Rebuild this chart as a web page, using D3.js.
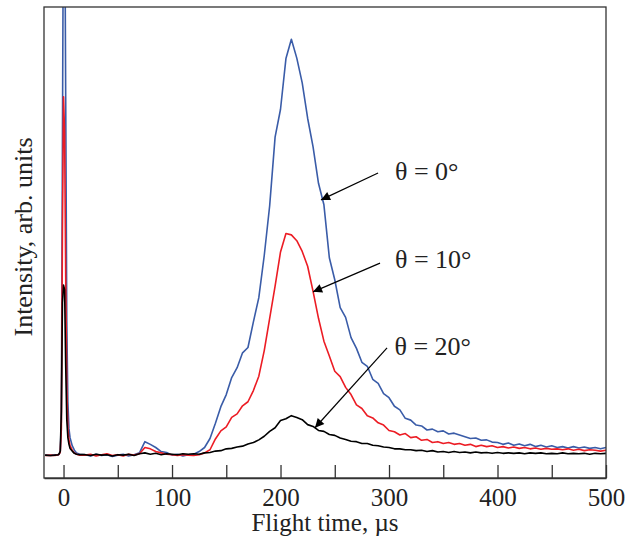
<!DOCTYPE html>
<html>
<head>
<meta charset="utf-8">
<script src="https://cdn.jsdelivr.net/npm/d3@7"></script>
<style>
  body { margin: 0; background: #fff; }
  svg text { font-family: "Liberation Serif", "Times New Roman", serif; fill: #222; }
</style>
</head>
<body>
<div class="svg-target"></div>
<script>
const w = 626;
const h = 540;
const margin = { left: 44, right: 20, top: 7, bottom: 62 };

// flight time, µs (spike region first, then every 5 µs)
const times = [-17, -12, -8, -5, -4, -3, -2, -1, 0, 1, 2, 3, 4, 5, 6, 8, 10, 12, 15,
  20, 25, 30, 35, 40, 45, 50, 55, 60, 65,
  70, 75, 80, 85, 90, 95, 100, 105, 110, 115,
  120, 125, 130, 135, 140, 145, 150, 155, 160, 165,
  170, 175, 180, 185, 190, 195, 200, 205, 210, 215,
  220, 225, 230, 235, 240, 245, 250, 255, 260, 265,
  270, 275, 280, 285, 290, 295, 300, 305, 310, 315,
  320, 325, 330, 335, 340, 345, 350, 355, 360, 365,
  370, 375, 380, 385, 390, 395, 400, 405, 410, 415,
  420, 425, 430, 435, 440, 445, 450, 455, 460, 465,
  470, 475, 480, 485, 490, 495, 500];

const theta0 = [0.1, 0, 0.2, 0.1, 0.3, 1, 8, 70, 130, 130, 80, 30, 12, 6, 4, 2.2, 1.2, 0.6, 0.3,
  0.2, -0.1, 0.3, 0.0, 0.2, -0.2, 0.1, 0.3, -0.1, 0.2,
  0.6, 3.1, 2.5, 1.8, 0.9, 0.7, 0.1, 0.3, -0.1, 0.2,
  0.3, 0.9, 1.8, 3.8, 7.2, 10.9, 13.6, 17.4, 19.6, 22.9,
  24.1, 29.8, 35.2, 44.6, 55.7, 71.0, 77.2, 88.5, 92.8, 88.6,
  83.1, 75.2, 68.8, 60.7, 55.9, 44.1, 39.2, 33.0, 30.8, 26.3,
  23.9, 20.8, 19.9, 17.0, 16.1, 13.8, 12.9, 11.0, 10.2, 8.3,
  7.9, 6.8, 6.6, 5.7, 5.9, 5.3, 5.5, 4.8, 5.0, 4.6,
  4.2, 3.8, 3.9, 3.4, 3.5, 3.0, 2.9, 2.5, 2.8, 2.3,
  2.6, 2.2, 2.5, 2.0, 2.3, 1.9, 2.2, 1.8, 2.0, 1.7,
  2.0, 1.7, 1.9, 1.6, 1.8, 1.5, 1.8];

const theta10 = [0, 0.1, 0, 0.2, 0.3, 0.8, 6, 50, 80, 72, 40, 15, 6, 3.5, 2.2, 1.2, 0.6, 0.3, 0.1,
  0.1, 0.3, -0.1, 0.2, 0.4, 0.0, 0.2, -0.1, 0.3, 0.1,
  0.4, 1.8, 1.5, 0.9, 0.6, 0.3, 0.2, 0.0, 0.2, 0.1,
  0.0, 0.2, 0.6, 1.3, 3.7, 5.5, 6.4, 8.5, 9.3, 11.1,
  12.0, 14.5, 17.7, 23.4, 30.6, 37.8, 45.4, 49.5, 49.2, 47.9,
  45.5, 42.2, 36.6, 30.6, 25.5, 22.2, 18.8, 17.6, 15.2, 13.6,
  11.3, 10.5, 8.9, 8.4, 7.3, 6.8, 5.6, 5.3, 4.6, 4.9,
  4.0, 4.2, 3.4, 3.6, 2.9, 3.1, 2.7, 2.9, 2.5, 2.7,
  2.3, 2.5, 2.0, 2.3, 2.0, 2.2, 1.8, 2.0, 1.7, 1.9,
  1.6, 1.8, 1.5, 1.7, 1.4, 1.6, 1.4, 1.5, 1.3, 1.5,
  1.2, 1.4, 1.1, 1.3, 1.2, 1.0, 1.2];

const theta20 = [0.1, 0, 0.1, 0.2, 0.4, 1, 10, 34, 38, 37, 20, 8, 4, 2.5, 1.6, 1.0, 0.5, 0.3, 0.2,
  0.2, 0.0, 0.3, 0.1, 0.2, -0.1, 0.2, 0.1, 0.3, 0.0,
  0.4, 0.6, 0.3, 0.5, 0.2, 0.4, 0.3, 0.2, 0.4, 0.3,
  0.4, 0.3, 0.6, 0.7, 1.0, 1.1, 1.5, 1.6, 1.9, 2.1,
  2.6, 2.9, 3.5, 4.3, 5.4, 6.2, 7.8, 8.2, 8.9, 8.5,
  8.0, 6.9, 6.5, 5.6, 5.4, 4.7, 4.5, 3.9, 3.6, 3.2,
  3.1, 2.7, 2.7, 2.3, 2.2, 1.9, 1.8, 1.5, 1.5, 1.3,
  1.3, 1.1, 1.2, 0.9, 1.1, 0.8, 0.9, 0.7, 0.9, 0.7,
  0.8, 0.6, 0.8, 0.6, 0.7, 0.5, 0.7, 0.5, 0.6, 0.5,
  0.6, 0.4, 0.6, 0.5, 0.6, 0.4, 0.5, 0.4, 0.6, 0.4,
  0.5, 0.4, 0.5, 0.3, 0.5, 0.4, 0.5];

const seriesNames = ['θ = 0°', 'θ = 10°', 'θ = 20°'];
const seriesColors = ['#3a5ca8', '#ec1c24', '#000000'];
const seriesValues = [theta0, theta10, theta20];

const xTicks = [0, 50, 100, 150, 200, 250, 300, 350, 400, 450, 500];

// annotation label anchors and arrows, in data units [t, intensity]
const labelPos = [[305.5, 61.4], [305.5, 41.8], [305, 22.4]];
const arrowFrom = [[289.9, 63.0], [291.7, 42.9], [298.2, 24.0]];
const arrowTo = [[237.3, 57.0], [230.0, 36.5], [231.8, 6.2]];

const svg = d3.select('.svg-target')
  .append('svg')
  .attr('width', w)
  .attr('height', h);

const x = d3.scaleLinear().domain([-18, 500]).range([margin.left, w - margin.right]);
const y = d3.scaleLinear().domain([-5, 100]).range([h - margin.bottom, margin.top]);

svg.append('defs').append('clipPath')
  .attr('id', 'plot-clip')
  .append('rect')
  .attr('x', margin.left)
  .attr('y', margin.top)
  .attr('width', w - margin.left - margin.right)
  .attr('height', h - margin.top - margin.bottom);

svg.append('defs').append('marker')
  .attr('id', 'arrow')
  .attr('viewBox', '0 0 10 10')
  .attr('refX', 10).attr('refY', 5)
  .attr('markerWidth', 16).attr('markerHeight', 9)
  .attr('markerUnits', 'userSpaceOnUse')
  .attr('orient', 'auto')
  .append('path')
  .attr('d', 'M0,0 L10,5 L0,10 Z')
  .attr('fill', '#000');

// curves
const line = d3.line()
  .x((d, i) => x(times[i]))
  .y(d => y(d));

svg.append('g')
  .attr('clip-path', 'url(#plot-clip)')
  .selectAll('path')
  .data(seriesValues)
  .enter()
  .append('path')
    .attr('d', d => line(d))
    .attr('fill', 'none')
    .attr('stroke', (d, i) => seriesColors[i])
    .attr('stroke-width', 1.6)
    .attr('stroke-linejoin', 'round');

// frame
svg.append('rect')
  .attr('x', margin.left)
  .attr('y', margin.top)
  .attr('width', w - margin.left - margin.right)
  .attr('height', h - margin.top - margin.bottom)
  .attr('fill', 'none')
  .attr('stroke', '#333')
  .attr('stroke-width', 1.3);

// x axis, ticks pointing inward
const xAxis = d3.axisBottom(x)
  .tickValues(xTicks)
  .tickSizeInner(-13)
  .tickSizeOuter(0)
  .tickPadding(10)
  .tickFormat(d => d % 100 === 0 ? d : '');

const gx = svg.append('g')
  .attr('transform', `translate(0, ${h - margin.bottom})`)
  .call(xAxis);
gx.select('.domain').attr('stroke', '#333').attr('stroke-width', 1.3);
gx.selectAll('.tick line').attr('stroke', '#333').attr('stroke-width', 1.3);
gx.selectAll('.tick text')
  .attr('font-family', '"Liberation Serif", serif')
  .attr('font-size', 25)
  .attr('fill', '#222');

// axis titles
svg.append('text')
  .attr('x', (margin.left + w - margin.right) / 2)
  .attr('y', 531)
  .attr('text-anchor', 'middle')
  .attr('font-size', 25)
  .text('Flight time, µs');

svg.append('text')
  .attr('transform', `translate(32, 237) rotate(-90)`)
  .attr('text-anchor', 'middle')
  .attr('font-size', 26)
  .text('Intensity, arb. units');

// annotations
svg.selectAll('.arrow')
  .data(arrowFrom)
  .enter()
  .append('line')
    .attr('class', 'arrow')
    .attr('x1', d => x(d[0]))
    .attr('y1', d => y(d[1]))
    .attr('x2', (d, i) => x(arrowTo[i][0]))
    .attr('y2', (d, i) => y(arrowTo[i][1]))
    .attr('stroke', '#000')
    .attr('stroke-width', 1.2)
    .attr('marker-end', 'url(#arrow)');

svg.selectAll('.label')
  .data(seriesNames)
  .enter()
  .append('text')
    .attr('class', 'label')
    .attr('x', (d, i) => x(labelPos[i][0]))
    .attr('y', (d, i) => y(labelPos[i][1]))
    .attr('font-size', 26)
    .text(d => d);
</script>
</body>
</html>
